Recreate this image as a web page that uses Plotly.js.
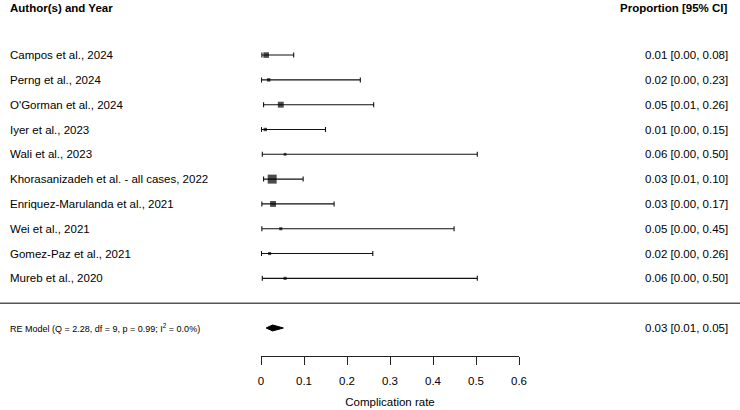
<!DOCTYPE html>
<html>
<head>
<meta charset="utf-8">
<script src="https://cdn.plot.ly/plotly-3.0.1.min.js"></script>
<style>html,body{margin:0;padding:0;background:#fff;}#chart{width:740px;height:410px;}</style>
</head>
<body>
<div id="chart"></div>
<script>
// ---- data ----
const studies = ["Campos et al., 2024", "Perng et al., 2024", "O'Gorman et al., 2024", "Iyer et al., 2023",
  "Wali et al., 2023", "Khorasanizadeh et al. - all cases, 2022", "Enriquez-Marulanda et al., 2021",
  "Wei et al., 2021", "Gomez-Paz et al., 2021", "Mureb et al., 2020"];
const estimates = [0.012, 0.018, 0.046, 0.010, 0.056, 0.026, 0.028, 0.046, 0.020, 0.056];
const lowerCI   = [0.002, 0.001, 0.006, 0.001, 0.003, 0.006, 0.002, 0.002, 0.001, 0.003];
const upperCI   = [0.076, 0.231, 0.262, 0.150, 0.503, 0.098, 0.170, 0.449, 0.260, 0.503];
const weights   = [13, 6, 14, 6, 4, 24, 14, 5, 5, 5];
const reEstimate = 0.027, reLower = 0.012, reUpper = 0.052;
const reLabel = "RE Model (Q = 2.28, df = 9, p = 0.99; I<sup>2</sup> = 0.0%)";
const tickValues = [0, 0.1, 0.2, 0.3, 0.4, 0.5, 0.6];
const tickLabels = ["0", "0.1", "0.2", "0.3", "0.4", "0.5", "0.6"];
const headerLeft = "Author(s) and Year";
const headerRight = "Proportion [95% CI]";
const xTitle = "Complication rate";

// ---- build ----
const FONT = "Liberation Sans, Arial, sans-serif";
const k = studies.length;
const rows = studies.map((_, i) => k - i);
const wmin = Math.min(...weights), wmax = Math.max(...weights);
const sizes = weights.map(w => 2.8 + 6.2 * (w - wmin) / (wmax - wmin));
const fmt = v => v.toFixed(2);

const studyTrace = {
  type: 'scatter', mode: 'markers', x: estimates, y: rows, cliponaxis: false,
  marker: {symbol: 'square', size: sizes, color: '#000', line: {width: 0}},
  error_x: {type: 'data', symmetric: false,
    array: upperCI.map((u, i) => u - estimates[i]),
    arrayminus: lowerCI.map((l, i) => estimates[i] - l),
    color: '#111', thickness: 1.1, width: 2.5},
  hoverinfo: 'skip', showlegend: false
};
const dh = 0.12;
const diamond = {
  type: 'scatter', mode: 'lines', fill: 'toself', fillcolor: '#000', cliponaxis: false,
  x: [reLower, reEstimate, reUpper, reEstimate, reLower],
  y: [-1, -1 + dh, -1, -1 - dh, -1],
  line: {color: '#000', width: 1}, hoverinfo: 'skip', showlegend: false
};

const ann = [];
const xl = 8 / 740, xr = 730 / 740;
studies.forEach((s, i) => {
  ann.push({xref: 'paper', yref: 'y', x: xl, y: rows[i], text: s, showarrow: false, xanchor: 'left', yanchor: 'middle', font: {family: FONT, size: 11.5, color: '#000'}});
  ann.push({xref: 'paper', yref: 'y', x: xr, y: rows[i], text: fmt(estimates[i]) + ' [' + fmt(lowerCI[i]) + ', ' + fmt(upperCI[i]) + ']', showarrow: false, xanchor: 'right', yanchor: 'middle', font: {family: FONT, size: 11.5, color: '#000'}});
});
ann.push({xref: 'paper', yref: 'y', x: xl, y: -1, text: reLabel, showarrow: false, xanchor: 'left', yanchor: 'middle', font: {family: FONT, size: 9, color: '#000'}});
ann.push({xref: 'paper', yref: 'y', x: xr, y: -1, text: fmt(reEstimate) + ' [' + fmt(reLower) + ', ' + fmt(reUpper) + ']', showarrow: false, xanchor: 'right', yanchor: 'middle', font: {family: FONT, size: 11.5, color: '#000'}});
ann.push({xref: 'paper', yref: 'y', x: xl, y: k + 1.88, text: '<b>' + headerLeft + '</b>', showarrow: false, xanchor: 'left', yanchor: 'middle', font: {family: FONT, size: 11.5, color: '#000'}});
ann.push({xref: 'paper', yref: 'y', x: xr, y: k + 1.88, text: '<b>' + headerRight + '</b>', showarrow: false, xanchor: 'right', yanchor: 'middle', font: {family: FONT, size: 11.5, color: '#000'}});

const layout = {
  width: 740, height: 410,
  margin: {l: 0, r: 0, t: 0, b: 54},
  paper_bgcolor: '#fff', plot_bgcolor: '#fff',
  showlegend: false,
  xaxis: {domain: [261 / 740, 519 / 740], range: [0, 0.6], tickvals: tickValues, ticktext: tickLabels,
    ticks: 'outside', ticklen: 8, tickwidth: 1, tickcolor: '#222', showline: true, linecolor: '#222', linewidth: 1,
    showgrid: false, zeroline: false, ticklabelstandoff: 6,
    tickfont: {family: FONT, size: 11.5, color: '#000'},
    title: {text: xTitle, font: {family: FONT, size: 11.5, color: '#000'}, standoff: 12}},
  yaxis: {range: [-2.13, 12.22], visible: false, showgrid: false, zeroline: false},
  shapes: [{type: 'line', xref: 'paper', yref: 'y', x0: 0, x1: 1, y0: 0, y1: 0, line: {color: '#555', width: 1.5}}],
  annotations: ann
};

Plotly.newPlot('chart', [studyTrace, diamond], layout, {staticPlot: true, displayModeBar: false});
</script>
</body>
</html>
